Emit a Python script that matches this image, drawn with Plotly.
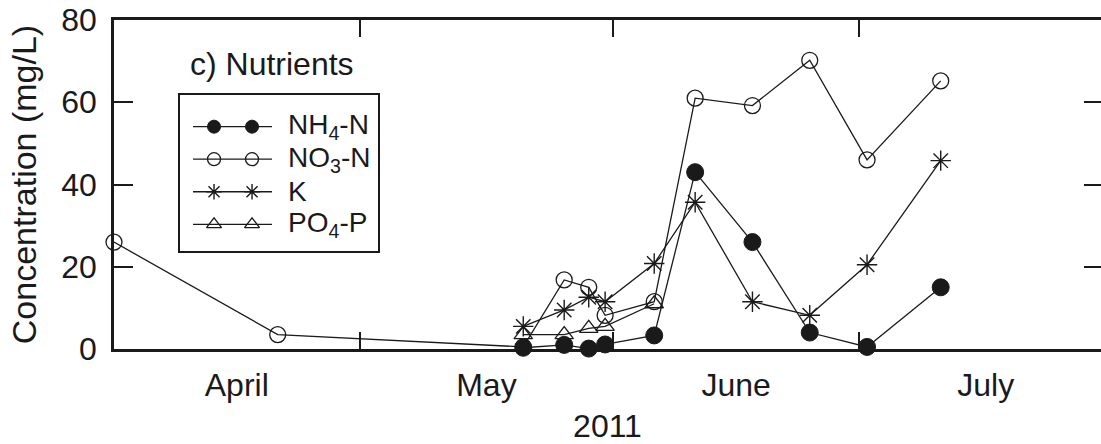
import pandas as pd
import plotly.graph_objects as go

# Sampling dates and measured concentrations (mg/L)
dates = ["2011-04-01", "2011-04-21", "2011-05-21", "2011-05-26", "2011-05-29",
         "2011-05-31", "2011-06-06", "2011-06-11", "2011-06-18", "2011-06-25",
         "2011-07-02", "2011-07-11"]
nh4 = [None, None, 0.3, 1.0, 0.1, 1.1, 3.3, 43.0, 26.0, 4.0, 0.5, 15.0]
no3 = [26.0, 3.5, 0.5, 16.8, 15.0, 8.2, 11.5, 61.0, 59.2, 70.2, 46.0, 65.2]
k_vals = [None, None, 5.5, 9.5, 12.6, 11.5, 20.8, 35.7, 11.5, 8.2, 20.5, 45.8]
po4 = [None, None, 3.5, 3.5, 5.0, 5.5, 11.0, None, None, None, None, None]

month_names = ["April", "May", "June", "July"]
y_ticks = [0, 20, 40, 60, 80]

FONT = "Liberation Sans, Arial, sans-serif"
BLACK = "#1a1a1a"

series = [
    ("NH<sub>4</sub>-N", nh4, dict(symbol="circle", size=17, color=BLACK,
                                   line=dict(color=BLACK, width=1))),
    ("NO<sub>3</sub>-N", no3, dict(symbol="circle-open", size=16, color=BLACK,
                                   line=dict(color=BLACK, width=1.3))),
    ("K", k_vals, dict(symbol="asterisk-open", size=17, color=BLACK,
                       line=dict(color=BLACK, width=1.4))),
    ("PO<sub>4</sub>-P", po4, dict(symbol="triangle-up-open", size=16, color=BLACK,
                                   line=dict(color=BLACK, width=1.3))),
]

fig = go.Figure()

# Data series: open markers first so filled dots sit on top
for name, vals, mk in [series[3], series[1], series[2], series[0]]:
    fig.add_trace(go.Scatter(
        x=pd.to_datetime(dates), y=vals, mode="lines+markers", name=name,
        line=dict(color=BLACK, width=1.3), marker=mk,
        cliponaxis=False, showlegend=False, xaxis="x", yaxis="y"))

# Month boundaries for tick marks, month centres for labels
starts = pd.date_range("2011-04-01", "2011-08-01", freq="MS")
mids = starts[:-1] + (starts[1:] - starts[:-1]) / 2
inner_starts = list(starts[1:-1])

# Invisible helper traces so the overlay axes are drawn
fig.add_trace(go.Scatter(x=[starts[0]], y=[None], xaxis="x2", yaxis="y",
                         showlegend=False, hoverinfo="skip"))
fig.add_trace(go.Scatter(x=[starts[0]], y=[None], xaxis="x", yaxis="y2",
                         showlegend=False, hoverinfo="skip"))

# Hand-built legend box with two markers per sample line
legend_rows = [32, 64.5, 97, 129.5]
for (name, vals, mk), ry in zip(series, legend_rows):
    lmk = dict(mk)
    lmk["size"] = 13
    fig.add_trace(go.Scatter(x=[13, 92], y=[ry, ry], mode="lines",
                             line=dict(color=BLACK, width=1.3),
                             xaxis="x3", yaxis="y3", showlegend=False,
                             hoverinfo="skip"))
    fig.add_trace(go.Scatter(x=[34, 72], y=[ry, ry], mode="markers",
                             marker=lmk, xaxis="x3", yaxis="y3",
                             showlegend=False, hoverinfo="skip"))
    fig.add_annotation(x=106, y=ry, xref="x3", yref="y3", text=name,
                       showarrow=False, xanchor="left", yanchor="middle",
                       font=dict(family=FONT, size=28, color=BLACK))

fig.add_annotation(x=0.075, y=0.865, xref="paper", yref="paper",
                   text="c) Nutrients", showarrow=False, xanchor="left",
                   yanchor="middle", font=dict(family=FONT, size=32, color=BLACK))

x_range = ["2011-04-01", "2011-07-30 14:00"]

fig.update_layout(
    width=1101, height=444,
    margin=dict(l=114, r=0, t=20, b=95),
    paper_bgcolor="white", plot_bgcolor="white",
    font=dict(family=FONT, size=32, color=BLACK),
    showlegend=False,
    xaxis=dict(
        type="date", range=x_range, tickmode="array", tickvals=list(mids),
        ticktext=month_names, ticks="", showline=False, showgrid=False,
        zeroline=False, tickfont=dict(size=32), ticklabelstandoff=14,
        title=dict(text="2011", font=dict(size=32), standoff=12),
    ),
    xaxis2=dict(
        type="date", range=x_range, overlaying="x", anchor="y", matches="x",
        tickmode="array", tickvals=inner_starts, showticklabels=False,
        ticks="inside", ticklen=17, tickwidth=2, tickcolor=BLACK,
        showline=True, linewidth=2.5, linecolor=BLACK, mirror="ticks",
        showgrid=False, zeroline=False,
    ),
    yaxis=dict(
        range=[0, 80], tickmode="array", tickvals=y_ticks,
        ticks="inside", ticklen=19, tickwidth=2, tickcolor=BLACK,
        showline=True, linewidth=2.5, linecolor=BLACK,
        showgrid=False, zeroline=False, tickfont=dict(size=32),
        ticklabelstandoff=8,
        title=dict(text="Concentration (mg/L)", font=dict(size=34), standoff=15),
    ),
    yaxis2=dict(
        range=[0, 80], overlaying="y", anchor="x", side="right",
        tickmode="array", tickvals=y_ticks[1:-1], showticklabels=False,
        ticks="inside", ticklen=17, tickwidth=2, tickcolor=BLACK,
        showline=False, showgrid=False, zeroline=False,
    ),
    xaxis3=dict(
        domain=[0.0669, 0.2675], anchor="y3", range=[0, 198],
        showline=True, mirror=True, linewidth=2, linecolor=BLACK,
        showticklabels=False, ticks="", showgrid=False, zeroline=False,
    ),
    yaxis3=dict(
        domain=[0.2983, 0.7732], anchor="x3", range=[156, 0],
        showline=True, mirror=True, linewidth=2, linecolor=BLACK,
        showticklabels=False, ticks="", showgrid=False, zeroline=False,
    ),
)

fig.write_html("out.html")
